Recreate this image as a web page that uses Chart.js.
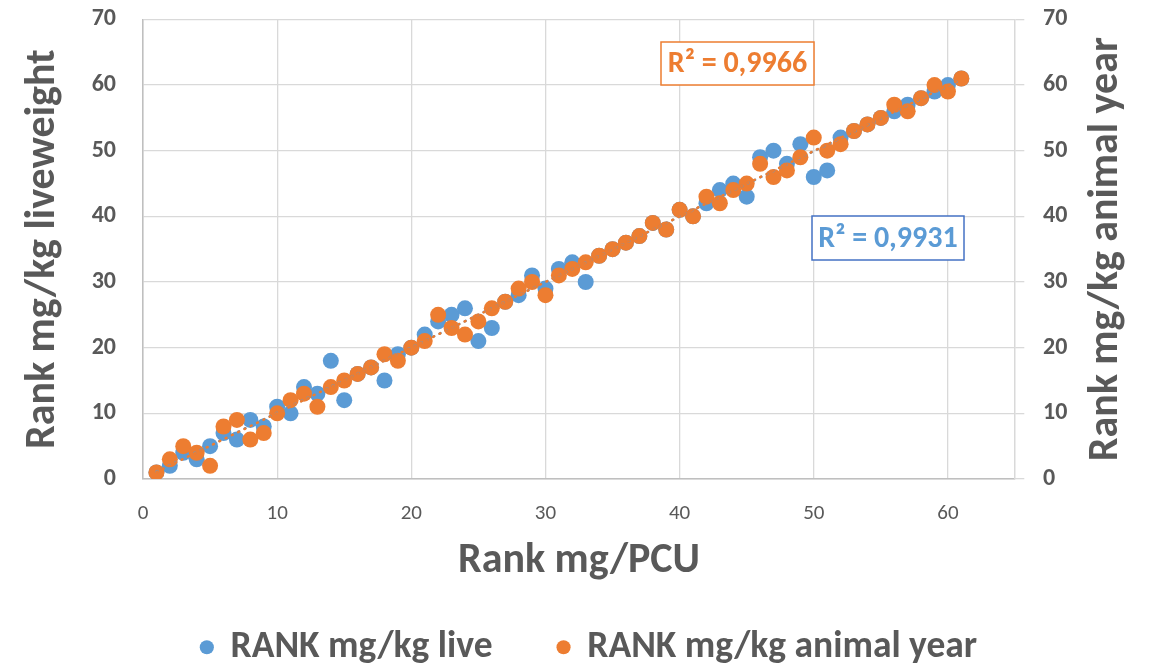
<!DOCTYPE html>
<html>
<head>
<meta charset="utf-8">
<script src="https://cdn.jsdelivr.net/npm/chart.js@4"></script>
<style>
  html, body { margin: 0; padding: 0; background: #fff; }
  #wrap { width: 1153px; height: 664px; }
</style>
</head>
<body>
<div id="wrap"><canvas id="chart" width="1153" height="664"></canvas></div>
<script>
// Rank per PCU (x), one entry per country/farm
const rankPCU = [1, 2, 3, 4, 5, 6, 7, 8, 9, 10, 11, 12, 13, 14, 15, 16, 17, 18, 19, 20,
  21, 22, 23, 24, 25, 26, 27, 28, 29, 30, 31, 32, 33, 34, 35, 36, 37, 38, 39, 40,
  41, 42, 43, 44, 45, 46, 47, 48, 49, 50, 51, 52, 53, 54, 55, 56, 57, 58, 59, 60, 61];
const rankLive = [1, 2, 4, 3, 5, 7, 6, 9, 8, 11, 10, 14, 13, 18, 12, 16, 17, 15, 19, 20,
  22, 24, 25, 26, 21, 23, 27, 28, 31, 29, 32, 33, 30, 34, 35, 36, 37, 39, 38, 41,
  40, 42, 44, 45, 43, 49, 50, 48, 51, 46, 47, 52, 53, 54, 55, 56, 57, 58, 59, 60, 61];
const rankAnimalYear = [1, 3, 5, 4, 2, 8, 9, 6, 7, 10, 12, 13, 11, 14, 15, 16, 17, 19, 18, 20,
  21, 25, 23, 22, 24, 26, 27, 29, 30, 28, 31, 32, 33, 34, 35, 36, 37, 39, 38, 41,
  40, 43, 42, 44, 45, 48, 46, 47, 49, 52, 50, 51, 53, 54, 55, 57, 56, 58, 60, 59, 61];
const yTicks = [0, 10, 20, 30, 40, 50, 60, 70];
const xTicks = [0, 10, 20, 30, 40, 50, 60];

const seriesNames = ['RANK mg/kg live', 'RANK mg/kg animal year'];
const r2Labels = ['R² = 0,9931', 'R² = 0,9966'];

const BLUE = '#5B9BD5';
const ORANGE = '#ED7D31';
const TEXT = '#595959';
const FONT = 'Carlito, Lato, "Open Sans", sans-serif';

function toPoints(xs, ys) {
  return xs.map((x, i) => ({ x: x, y: ys[i] }));
}

// least squares linear trendline over the data range
function trendline(xs, ys) {
  const n = xs.length;
  const mx = xs.reduce((a, b) => a + b, 0) / n;
  const my = ys.reduce((a, b) => a + b, 0) / n;
  let sxy = 0, sxx = 0;
  for (let i = 0; i < n; i++) {
    sxy += (xs[i] - mx) * (ys[i] - my);
    sxx += (xs[i] - mx) * (xs[i] - mx);
  }
  const slope = sxy / sxx;
  const icpt = my - slope * mx;
  const x0 = Math.min(...xs), x1 = Math.max(...xs);
  return [{ x: x0, y: icpt + slope * x0 }, { x: x1, y: icpt + slope * x1 }];
}

// axis titles and R² boxes
const extras = {
  id: 'extras',
  afterLayout(chart) {
    // nudge the legend down/right to where the original sits
    const lg = chart.legend;
    lg.top += 12; lg.bottom += 12;
    lg.left += 13; lg.right += 13;
  },
  afterDraw(chart) {
    const ctx = chart.ctx;
    const area = chart.chartArea;
    const midY = (area.top + area.bottom) / 2;
    ctx.save();
    ctx.fillStyle = TEXT;
    ctx.font = 'bold 42px ' + FONT;
    ctx.textAlign = 'center';
    ctx.textBaseline = 'middle';
    // left title
    ctx.save();
    ctx.translate(43, midY);
    ctx.rotate(-Math.PI / 2);
    ctx.fillText('Rank mg/kg liveweight', 0, 0);
    ctx.restore();
    // right title
    ctx.save();
    ctx.translate(1106, midY);
    ctx.rotate(-Math.PI / 2);
    ctx.fillText('Rank mg/kg animal year', 0, 0);
    ctx.restore();
    // x title
    ctx.fillText('Rank mg/PCU', (area.left + area.right) / 2, 561);

    // R² labels
    const boxes = [
      { text: r2Labels[1], color: ORANGE, border: ORANGE, x: 661, y: 42, w: 153, h: 43 },
      { text: r2Labels[0], color: BLUE, border: '#4472C4', x: 812, y: 216, w: 152, h: 44 }
    ];
    ctx.font = 'bold 30px ' + FONT;
    boxes.forEach(b => {
      ctx.fillStyle = '#fff';
      ctx.fillRect(b.x, b.y, b.w, b.h);
      ctx.strokeStyle = b.border;
      ctx.lineWidth = 1.5;
      ctx.strokeRect(b.x, b.y, b.w, b.h);
      ctx.fillStyle = b.color;
      ctx.fillText(b.text, b.x + b.w / 2, b.y + b.h / 2 + 1);
    });
    ctx.restore();
  }
};

const ctx = document.getElementById('chart').getContext('2d');
const chart = new Chart(ctx, {
  type: 'scatter',
  data: {
    datasets: [
      {
        label: seriesNames[0],
        data: toPoints(rankPCU, rankLive),
        backgroundColor: BLUE,
        borderColor: BLUE,
        pointRadius: 8,
        pointBorderWidth: 0,
        yAxisID: 'y',
        order: 4
      },
      {
        label: seriesNames[1],
        data: toPoints(rankPCU, rankAnimalYear),
        backgroundColor: ORANGE,
        borderColor: ORANGE,
        pointRadius: 8,
        pointBorderWidth: 0,
        yAxisID: 'y2',
        order: 3
      },
      {
        label: 'trend live',
        type: 'line',
        data: trendline(rankPCU, rankLive),
        borderColor: BLUE,
        borderWidth: 2.5,
        borderDash: [1, 6],
        borderCapStyle: 'round',
        pointRadius: 0,
        fill: false,
        yAxisID: 'y',
        order: 2
      },
      {
        label: 'trend animal year',
        type: 'line',
        data: trendline(rankPCU, rankAnimalYear),
        borderColor: ORANGE,
        borderWidth: 2.5,
        borderDash: [1, 6],
        borderCapStyle: 'round',
        pointRadius: 0,
        fill: false,
        yAxisID: 'y2',
        order: 1
      }
    ]
  },
  options: {
    responsive: false,
    animation: false,
    layout: { padding: 0 },
    plugins: {
      tooltip: { enabled: false },
      legend: {
        position: 'bottom',
        labels: {
          filter: item => item.datasetIndex < 2,
          sort: (a, b) => a.datasetIndex - b.datasetIndex,
          usePointStyle: true,
          pointStyle: 'circle',
          boxWidth: 10,
          boxHeight: 10,
          padding: 66,
          color: TEXT,
          font: { family: FONT, size: 37.5, weight: 'bold' }
        }
      }
    },
    scales: {
      x: {
        type: 'linear',
        min: 0,
        max: 65,
        afterBuildTicks: s => { s.ticks = xTicks.concat([65]).map(v => ({ value: v })); },
        ticks: {
          callback: v => (xTicks.includes(v) ? v : ''),
          color: TEXT,
          padding: 22,
          maxRotation: 0,
          font: { family: FONT, size: 21 }
        },
        grid: { color: '#d9d9d9', lineWidth: 1.3, drawTicks: false },
        border: { color: '#bfbfbf', width: 1.5 },
        // plot bottom sits at y = 479
        afterFit: s => { s.height = 664 - 479 - s.chart.legend.height; }
      },
      y: {
        position: 'left',
        min: 0,
        max: 70,
        afterBuildTicks: s => { s.ticks = yTicks.map(v => ({ value: v })); },
        ticks: {
          color: TEXT,
          padding: 5,
          font: { family: FONT, size: 24, weight: 'bold' }
        },
        grid: { color: '#d9d9d9', lineWidth: 1.3, tickLength: 22, tickColor: 'rgba(0,0,0,0)' },
        border: { color: '#bfbfbf', width: 1.5 },
        afterFit: s => { s.width = 143; }
      },
      y2: {
        position: 'right',
        min: 0,
        max: 70,
        afterBuildTicks: s => { s.ticks = yTicks.map(v => ({ value: v })); },
        ticks: {
          color: TEXT,
          padding: 2,
          font: { family: FONT, size: 24, weight: 'bold' }
        },
        // short visible tick, the rest of the tick length is just spacing
        grid: { drawOnChartArea: false, color: '#d9d9d9', lineWidth: 1.3, tickLength: 26, tickBorderDash: [9, 60] },
        border: { color: '#d9d9d9', width: 1.3 },
        afterFit: s => { s.width = 138; }
      }
    }
  },
  plugins: [extras]
});
</script>
</body>
</html>
